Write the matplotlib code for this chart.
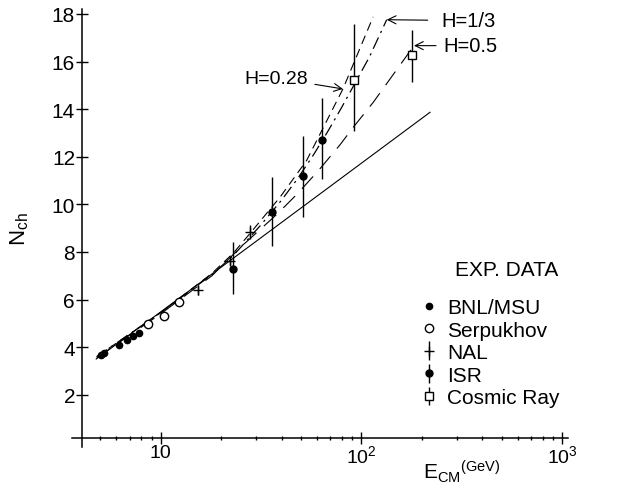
#!/usr/bin/env python3

import matplotlib
matplotlib.use("Agg")
import matplotlib.pyplot as plt
from matplotlib import font_manager
from matplotlib.container import ErrorbarContainer
from matplotlib.legend_handler import HandlerErrorbar
from matplotlib.ticker import FixedLocator, NullFormatter


# -------------------------------------------------------
# Data
# -------------------------------------------------------

bnl_E = [5.05, 5.24, 6.19, 6.78, 7.25, 7.82]
bnl_N = [3.67, 3.74, 4.09, 4.30, 4.48, 4.60]

serp_E = [8.65, 10.4, 12.3]
serp_N = [4.96, 5.32, 5.88]

nal_E = [15.4, 22.1, 27.9]
nal_N = [6.40, 7.63, 8.83]
nal_err = [0.2, 0.2, 0.3]

isr_E = [23.0, 35.9, 51.3, 63.6]
isr_N = [7.30, 9.69, 11.20, 12.70]
isr_lo = [6.22, 8.25, 9.45, 11.06]
isr_hi = [8.41, 11.13, 12.88, 14.49]

cosmic_E = [92.2, 178.1]
cosmic_N = [15.24, 16.28]
cosmic_lo = [13.09, 15.15]
cosmic_hi = [17.58, 17.34]

# model curves
solid_E = [4.77, 10.0, 27.9, 219.8]
solid_N = [3.50, 5.48, 8.26, 13.87]

h028_E = [4.8, 10.0, 18.0, 23.0, 28.0, 39.3, 53.3, 80.9, 114.4]
h028_N = [3.60, 5.45, 7.10, 7.95, 8.80, 10.30, 11.84, 14.85, 17.88]

h033_E = [4.8, 10.0, 18.0, 23.0, 31.3, 39.6, 48.0, 58.1, 68.4, 79.8, 109.4, 133.7]
h033_N = [3.60, 5.45, 7.05, 7.85, 9.10, 10.13, 11.07, 12.12, 13.10, 14.08, 16.18, 17.76]

h05_E = [4.8, 10.0, 18.0, 25.0, 33.1, 38.0, 47.8, 60.8, 78.2, 91.1, 114.6, 182.8]
h05_N = [3.55, 5.40, 7.00, 8.20, 9.13, 9.59, 10.43, 11.40, 12.50, 13.24, 14.29, 16.67]

y_ticks = [2, 4, 6, 8, 10, 12, 14, 16, 18]
x_major = [10, 100, 1000]
x_labels = ["10", "$10^2$", "$10^3$"]
x_minor = [5, 6, 7, 8, 9, 20, 30, 40, 50, 60, 70, 80, 90,
           200, 300, 400, 500, 600, 700, 800, 900]

legend_labels = ["BNL/MSU", "Serpukhov", "NAL", "ISR", "Cosmic Ray"]


# -------------------------------------------------------
# Font
# -------------------------------------------------------

def pick_font():

    names = {f.name for f in font_manager.fontManager.ttflist}

    for name in ["Liberation Sans Narrow", "Liberation Sans", "DejaVu Sans"]:
        if name in names:
            return name

    return "DejaVu Sans"


# -------------------------------------------------------
# Plot
# -------------------------------------------------------

def plot():

    font = pick_font()

    plt.rcParams["font.family"] = [font, "DejaVu Sans"]
    plt.rcParams["mathtext.fontset"] = "custom"
    plt.rcParams["mathtext.rm"] = font
    plt.rcParams["mathtext.it"] = font
    plt.rcParams["mathtext.bf"] = font

    fig = plt.figure(figsize=(6.18, 4.85), dpi=100)

    ax = fig.add_axes([72 / 618, 1 - 448 / 485, 496 / 618, 438 / 485])

    ax.set_xscale("log")
    ax.set_xlim(3.614, 1070)
    ax.set_ylim(-0.198, 18.21)

    for side in ["top", "right"]:
        ax.spines[side].set_visible(False)

    ax.spines["left"].set_position(("data", 4.055))
    ax.spines["bottom"].set_position(("data", 0.17))
    ax.spines["left"].set_linewidth(1.1)
    ax.spines["bottom"].set_linewidth(1.1)

    # curves
    ax.plot(solid_E, solid_N, color="black", lw=0.8)
    ax.plot(h028_E, h028_N, color="black", lw=0.8, linestyle=(0, (8, 5)))
    ax.plot(h033_E, h033_N, color="black", lw=0.9, linestyle=(0, (10, 4, 1.8, 4)))
    ax.plot(h05_E, h05_N, color="black", lw=0.8, linestyle=(0, (15, 9)))

    # data
    h_bnl, = ax.plot(bnl_E, bnl_N, "o", color="black", ms=4.5, ls="none")

    h_serp, = ax.plot(serp_E, serp_N, "o", mfc="white", mec="black",
                      ms=6, mew=1.0, ls="none")

    h_nal = ax.errorbar(nal_E, nal_N, yerr=nal_err, fmt="+", color="black",
                        ms=7, mew=1.0, elinewidth=1.0, capsize=0)

    isr_err = [[n - lo for n, lo in zip(isr_N, isr_lo)],
               [hi - n for n, hi in zip(isr_N, isr_hi)]]

    h_isr = ax.errorbar(isr_E, isr_N, yerr=isr_err, fmt="o", color="black",
                        ms=5, elinewidth=1.0, capsize=0)

    cos_err = [[n - lo for n, lo in zip(cosmic_N, cosmic_lo)],
               [hi - n for n, hi in zip(cosmic_N, cosmic_hi)]]

    h_cos = ax.errorbar(cosmic_E, cosmic_N, yerr=cos_err, fmt="s",
                        mfc="white", mec="black", color="black",
                        ms=5.5, mew=1.0, elinewidth=1.0, capsize=0)

    # ticks
    ax.set_yticks(y_ticks)
    ax.set_yticklabels([str(t) for t in y_ticks], fontsize=15)

    ax.xaxis.set_major_locator(FixedLocator(x_major))
    ax.xaxis.set_minor_locator(FixedLocator(x_minor))
    ax.xaxis.set_minor_formatter(NullFormatter())
    ax.set_xticklabels(x_labels, fontsize=14)

    ax.tick_params(axis="y", direction="inout", length=8, width=1.0, pad=1)
    ax.tick_params(axis="x", which="major", direction="inout", length=8,
                   width=1.0, pad=0)
    ax.tick_params(axis="x", which="minor", direction="inout", length=3,
                   width=1.0)

    # axis labels
    fig.text(20 / 618, 1 - 229 / 485, r"N$_{\mathrm{ch}}$", rotation=90,
             fontsize=16, ha="center", va="center")

    fig.text(423 / 618, 1 - 472 / 485,
             r"E$_{\mathrm{CM}}{}^{\mathrm{(GeV)}}$",
             fontsize=15, ha="left", va="center")

    # annotations
    arrow = dict(arrowstyle="->", lw=0.8, color="black", shrinkA=3, shrinkB=0)

    ax.annotate("H=1/3", xy=(133.7, 17.76), xytext=(251, 17.72),
                fontsize=14.5, ha="left", va="center",
                arrowprops=dict(arrow, shrinkA=8))

    ax.annotate("H=0.5", xy=(182.8, 16.67), xytext=(255, 16.67),
                fontsize=14.5, ha="left", va="center",
                arrowprops=arrow)

    ax.annotate("H=0.28", xy=(80.9, 14.85), xytext=(54.2, 15.31),
                fontsize=14, ha="right", va="center",
                arrowprops=arrow)

    # legend
    ax.text(455 / 618, 1 - 270 / 485, "EXP. DATA", transform=fig.transFigure,
            fontsize=15, ha="left", va="center")

    ax.legend(
        handles=[h_bnl, h_serp, h_nal, h_isr, h_cos],
        labels=legend_labels,
        loc="upper left",
        bbox_to_anchor=(421 / 618, 1 - 299 / 485),
        bbox_transform=fig.transFigure,
        frameon=False,
        fontsize=15,
        handlelength=0.8,
        handletextpad=0.45,
        labelspacing=0.17,
        borderpad=0,
        borderaxespad=0,
        handler_map={ErrorbarContainer: HandlerErrorbar(yerr_size=0.45)},
    )

    fig.savefig("out.png", dpi=100)


# -------------------------------------------------------
# Main
# -------------------------------------------------------

def main():
    plot()


if __name__ == "__main__":
    main()
